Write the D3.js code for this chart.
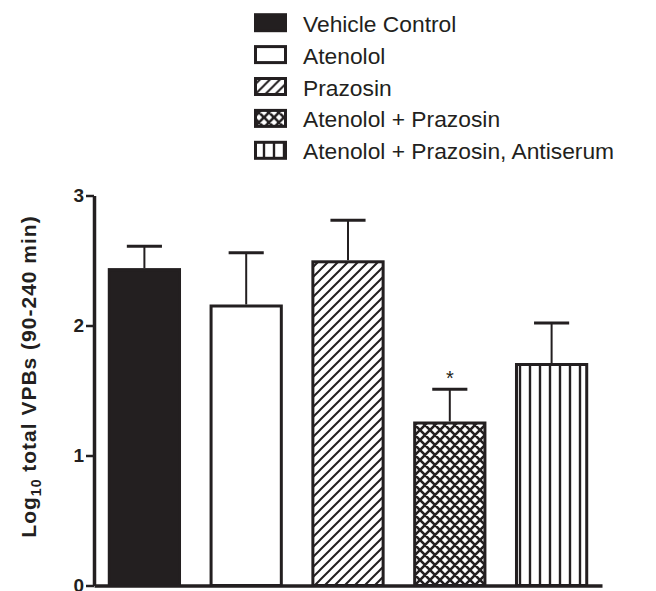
<!DOCTYPE html>
<html>
<head>
<meta charset="utf-8">
<script src="https://cdn.jsdelivr.net/npm/d3@7"></script>
<style>
  body { margin: 0; background: #fff; }
  svg { display: block; font-family: Arial, "Liberation Sans", sans-serif; }
</style>
</head>
<body>
<div id="svg-container"></div>
<script>
// data
const groups = ["Vehicle Control", "Atenolol", "Prazosin", "Atenolol + Prazosin", "Atenolol + Prazosin, Antiserum"];
const means = [2.43, 2.15, 2.49, 1.25, 1.70];
const sems = [0.18, 0.41, 0.32, 0.26, 0.32];
const marks = ["", "", "", "*", ""];
const fills = ["solid", "none", "diag", "cross", "vert"];
const yTicks = [0, 1, 2, 3];

const width = 656, height = 591;
const ink = "#231f20";
const margin = { top: 195.5, right: 54, bottom: 5.5, left: 94 };

const svg = d3.select("#svg-container").append("svg")
  .attr("width", width).attr("height", height);

// patterns
const defs = svg.append("defs");
const diag = defs.append("pattern").attr("id", "diag")
  .attr("patternUnits", "userSpaceOnUse").attr("width", 10).attr("height", 10);
diag.append("rect").attr("width", 10).attr("height", 10).attr("fill", "#fff");
diag.append("path").attr("d", "M-2,2 L2,-2 M0,10 L10,0 M8,12 L12,8")
  .attr("stroke", ink).attr("stroke-width", 2);

const cross = defs.append("pattern").attr("id", "cross")
  .attr("patternUnits", "userSpaceOnUse").attr("width", 10).attr("height", 10);
cross.append("rect").attr("width", 10).attr("height", 10).attr("fill", "#fff");
cross.append("path").attr("d", "M-2,2 L2,-2 M0,10 L10,0 M8,12 L12,8 M-2,8 L2,12 M0,0 L10,10 M8,-2 L12,2")
  .attr("stroke", ink).attr("stroke-width", 2.6);

const vert = defs.append("pattern").attr("id", "vert")
  .attr("patternUnits", "userSpaceOnUse").attr("width", 10).attr("height", 10)
  .attr("x", 5);
vert.append("rect").attr("width", 10).attr("height", 10).attr("fill", "#fff");
vert.append("path").attr("d", "M5,0 L5,10").attr("stroke", ink).attr("stroke-width", 2.4);

const fillOf = (f) => f === "solid" ? ink : f === "none" ? "#fff" : `url(#${f})`;

// scales
const x = d3.scaleBand().domain(groups)
  .range([margin.left, width - margin.right])
  .paddingInner(0.31).paddingOuter(0.15);
const y = d3.scaleLinear().domain([0, 3]).range([height - margin.bottom, margin.top]);

// bars
const bars = svg.append("g");
bars.selectAll("rect").data(groups).join("rect")
  .attr("x", (d) => x(d))
  .attr("y", (d, i) => y(means[i]))
  .attr("width", x.bandwidth())
  .attr("height", (d, i) => y(0) - y(means[i]))
  .attr("fill", (d, i) => fillOf(fills[i]))
  .attr("stroke", ink)
  .attr("stroke-width", 3);

// error bars
const err = svg.append("g").attr("stroke", ink);
err.selectAll("line.v").data(groups).join("line").attr("class", "v")
  .attr("x1", (d) => x(d) + x.bandwidth() / 2)
  .attr("x2", (d) => x(d) + x.bandwidth() / 2)
  .attr("y1", (d, i) => y(means[i]) - 1.5)
  .attr("y2", (d, i) => y(means[i] + sems[i]))
  .attr("stroke-width", 2);
err.selectAll("line.c").data(groups).join("line").attr("class", "c")
  .attr("x1", (d) => x(d) + x.bandwidth() / 4)
  .attr("x2", (d) => x(d) + x.bandwidth() * 3 / 4)
  .attr("y1", (d, i) => y(means[i] + sems[i]))
  .attr("y2", (d, i) => y(means[i] + sems[i]))
  .attr("stroke-width", 3);

svg.append("g").selectAll("text").data(groups).join("text")
  .attr("x", (d) => x(d) + x.bandwidth() / 2)
  .attr("y", (d, i) => y(means[i] + sems[i]) - 4)
  .attr("text-anchor", "middle")
  .attr("font-size", 20)
  .attr("fill", ink)
  .text((d, i) => marks[i]);

// axes
const yAxis = d3.axisLeft(y).tickValues(yTicks).tickFormat(d3.format("d"))
  .tickSize(8).tickSizeOuter(0).tickPadding(2);
svg.append("g").attr("class", "y-axis")
  .attr("transform", `translate(${margin.left},0)`)
  .call(yAxis)
  .call((g) => {
    g.select(".domain").attr("stroke", ink).attr("stroke-width", 3.5);
    g.selectAll(".tick line").attr("stroke", ink).attr("stroke-width", 2.5);
    g.selectAll(".tick text").attr("font-size", 19).attr("font-weight", "bold")
      .attr("fill", ink).attr("font-family", "Arial, 'Liberation Sans', sans-serif");
  });

const xAxis = d3.axisBottom(x).tickSize(0).tickSizeOuter(0).tickFormat("");
svg.append("g").attr("class", "x-axis")
  .attr("transform", `translate(0,${y(0)})`)
  .call(xAxis)
  .call((g) => g.select(".domain").attr("stroke", ink).attr("stroke-width", 3.5));

// y title
const title = svg.append("text")
  .attr("transform", `translate(36,376.5) rotate(-90)`)
  .attr("text-anchor", "middle")
  .attr("font-size", 21)
  .attr("font-weight", "bold")
  .attr("letter-spacing", 1)
  .attr("fill", ink);
title.append("tspan").text("Log");
title.append("tspan").attr("font-size", 14).attr("dy", 5).text("10");
title.append("tspan").attr("dy", -5).text(" total VPBs (90-240 min)");

// legend
const legend = svg.append("g").attr("transform", "translate(254,0)");
const row = legend.selectAll("g").data(groups).join("g")
  .attr("transform", (d, i) => `translate(0,${31.7 + i * 31.9})`);
row.append("rect")
  .attr("x", 1.5).attr("y", -17)
  .attr("width", 30).attr("height", 16)
  .attr("fill", (d, i) => fillOf(fills[i]))
  .attr("stroke", ink).attr("stroke-width", 3);
row.append("text")
  .attr("x", 49).attr("y", 0)
  .attr("font-size", 22.8)
  .attr("fill", ink)
  .text((d) => d);
</script>
</body>
</html>
